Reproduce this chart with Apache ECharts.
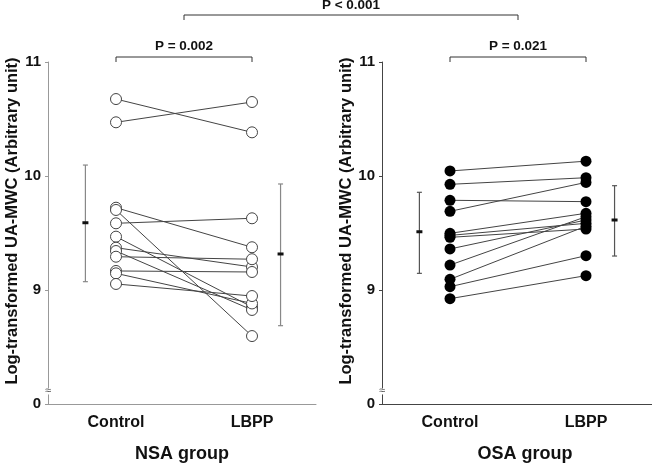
<!DOCTYPE html>
<html><head><meta charset="utf-8">
<script src="https://cdn.jsdelivr.net/npm/echarts/dist/echarts.min.js"></script>
<style>html,body{margin:0;padding:0;background:#fff}#c{width:652px;height:465px}</style>
</head><body><div id="c"></div>
<script>
// ---- data ----
const categories = ['Control', 'LBPP'];
const groupNames = ['NSA group', 'OSA group'];
const yTickValues = [8, 9, 10, 11];          // 8 = broken-axis origin, shown as "0"
const yTickLabels = ['0', '9', '10', '11'];
const pLabels = ['P = 0.002', 'P = 0.021', 'P < 0.001'];
const yAxisTitle = 'Log-transformed UA-MWC (Arbitrary unit)';

const nsaControl = [10.675, 10.471, 9.722, 9.702, 9.585, 9.468, 9.371, 9.342, 9.292, 9.167, 9.146, 9.053];
const nsaLBPP    = [10.383, 10.649, 9.375, 8.596, 9.629, 8.851, 9.202, 8.825, 9.270, 9.158, 8.882, 8.947];
const osaControl = [10.044, 9.927, 9.787, 9.690, 9.497, 9.479, 9.462, 9.360, 9.219, 9.094, 9.029, 8.924];
const osaLBPP    = [10.130, 9.985, 9.775, 9.944, 9.673, 9.585, 9.535, 9.614, 9.643, 9.560, 9.301, 9.126];

// [low, mean, high] for Control and LBPP
const nsaSummary = [[9.073, 9.590, 10.096], [8.687, 9.316, 9.930]];
const osaSummary = [[9.146, 9.511, 9.857], [9.298, 9.614, 9.915]];

// ---- chart ----
const FONT = '"Liberation Sans", Arial, sans-serif';
const chart = echarts.init(document.getElementById('c'), null, {renderer: 'canvas'});
const SUM_OFFSET = [-0.225, 0.21];

const panels = [
  {ctrl: nsaControl, lbpp: nsaLBPP, sum: nsaSummary, hollow: true, axisColor: '#999', barColor: '#888'},
  {ctrl: osaControl, lbpp: osaLBPP, sum: osaSummary, hollow: false, axisColor: '#444', barColor: '#555'}
];

const grids = [
  {left: 48, top: 62, width: 268, height: 342, containLabel: false, outerBoundsMode: 'none'},
  {left: 382, top: 62, width: 270, height: 342, containLabel: false, outerBoundsMode: 'none'}
];
const xMax = [0.5 + 268 / 136, 0.5 + 270 / 136];

const xAxes = panels.map((p, i) => ({
  type: 'value', gridIndex: i, min: 0.5, max: xMax[i], interval: 0.5,
  splitLine: {show: false}, axisTick: {show: false},
  axisLine: {show: true, lineStyle: {color: p.axisColor, width: 1}},
  axisLabel: {
    margin: 11, color: '#111', fontFamily: FONT, fontWeight: 'bold', fontSize: 16,
    showMinLabel: false, showMaxLabel: false,
    formatter: v => (Math.abs(v - 1) < 1e-6 ? categories[0] : Math.abs(v - 2) < 1e-6 ? categories[1] : '')
  },
  name: groupNames[i], nameLocation: 'middle', nameGap: 41,
  nameTextStyle: {color: '#111', fontFamily: FONT, fontWeight: 'bold', fontSize: 18, padding: i === 1 ? [0, 0, 0, 16] : 0}
}));

const yAxes = panels.map((p, i) => ({
  type: 'value', gridIndex: i, min: yTickValues[0], max: yTickValues[yTickValues.length - 1], interval: 1,
  splitLine: {show: false},
  axisLine: {show: true, lineStyle: {color: p.axisColor, width: 1}},
  axisTick: {show: true, length: 3, lineStyle: {color: p.axisColor}},
  axisLabel: {
    margin: 7, color: '#111', fontFamily: FONT, fontWeight: 'bold', fontSize: 15,
    formatter: v => yTickLabels[yTickValues.indexOf(v)] ?? ''
  }
}));

const series = [];
panels.forEach((p, gi) => {
  p.ctrl.forEach((c, k) => {
    series.push({
      type: 'line', xAxisIndex: gi, yAxisIndex: gi, data: [[1, c], [2, p.lbpp[k]]],
      showSymbol: false, silent: true, animation: false, z: 2,
      lineStyle: {color: '#444', width: 1}
    });
  });
  series.push({
    type: 'scatter', xAxisIndex: gi, yAxisIndex: gi, animation: false, z: 4,
    data: p.ctrl.map(v => [1, v]).concat(p.lbpp.map(v => [2, v])),
    symbol: 'circle', symbolSize: 11,
    itemStyle: p.hollow ? {color: '#fff', borderColor: '#444', borderWidth: 1, opacity: 1}
                        : {color: '#000', borderColor: '#000', borderWidth: 0, opacity: 1}
  });
  series.push({
    type: 'custom', xAxisIndex: gi, yAxisIndex: gi, animation: false, z: 3,
    data: p.sum.map((s, k) => [k + 1 + SUM_OFFSET[k], s[0], s[1], s[2]]),
    renderItem: (params, api) => {
      const x = api.value(0);
      const lo = api.coord([x, api.value(1)]);
      const mid = api.coord([x, api.value(2)]);
      const hi = api.coord([x, api.value(3)]);
      const st = {stroke: p.barColor, lineWidth: 1.2};
      return {type: 'group', children: [
        {type: 'line', shape: {x1: lo[0], y1: lo[1], x2: hi[0], y2: hi[1]}, style: st},
        {type: 'line', shape: {x1: lo[0] - 2.5, y1: lo[1], x2: lo[0] + 2.5, y2: lo[1]}, style: st},
        {type: 'line', shape: {x1: hi[0] - 2.5, y1: hi[1], x2: hi[0] + 2.5, y2: hi[1]}, style: st},
        {type: 'rect', shape: {x: mid[0] - 3, y: mid[1] - 1.5, width: 6, height: 3}, style: {fill: '#111'}}
      ]};
    }
  });
});

chart.setOption({
  animation: false,
  backgroundColor: '#fff',
  grid: grids,
  xAxis: xAxes,
  yAxis: yAxes,
  series: series
});

// ---- annotations (brackets, p-values, axis titles, axis breaks) ----
const px = (gi, x, y) => chart.convertToPixel({gridIndex: gi}, [x, y]);
const g = [];
const textStyle = (txt, size) => ({text: txt, fill: '#111', font: 'bold ' + size + 'px ' + FONT, textAlign: 'center', textVerticalAlign: 'middle'});
const lineSt = {stroke: '#333', lineWidth: 1, fill: null};

[0, 1].forEach(gi => {
  const a = px(gi, 1, 11), b = px(gi, 2, 11);
  const yb = a[1] - 5;
  g.push({type: 'polyline', shape: {points: [[a[0], yb + 5], [a[0], yb], [b[0], yb], [b[0], yb + 5]]}, style: lineSt});
  g.push({type: 'text', x: (a[0] + b[0]) / 2, y: yb - 11, style: textStyle(pLabels[gi], 13.5)});
  // y axis title
  const top = px(gi, 0.5, 11), bot = px(gi, 0.5, 8);
  g.push({type: 'text', x: top[0] - 36, y: (top[1] + bot[1]) / 2 - 12, rotation: Math.PI / 2, style: textStyle(yAxisTitle, 16.5)});
  // axis break mark
  const br = px(gi, 0.5, 8.11);
  g.push({type: 'rect', shape: {x: br[0] - 4, y: br[1] - 3, width: 8, height: 6}, style: {fill: '#fff'}, z: 100});
  g.push({type: 'text', x: br[0], y: br[1], z: 101, style: {text: '≈', fill: '#555', font: '11px ' + FONT, textAlign: 'center', textVerticalAlign: 'middle'}});
});
{
  const l = px(0, 1.5, 11), r = px(1, 1.5, 11);
  const yb = 15;
  g.push({type: 'polyline', shape: {points: [[l[0], yb + 5], [l[0], yb], [r[0], yb], [r[0], yb + 5]]}, style: lineSt});
  g.push({type: 'text', x: (l[0] + r[0]) / 2, y: 5, style: textStyle(pLabels[2], 13.5)});
}
chart.setOption({graphic: g});
</script>
</body></html>
